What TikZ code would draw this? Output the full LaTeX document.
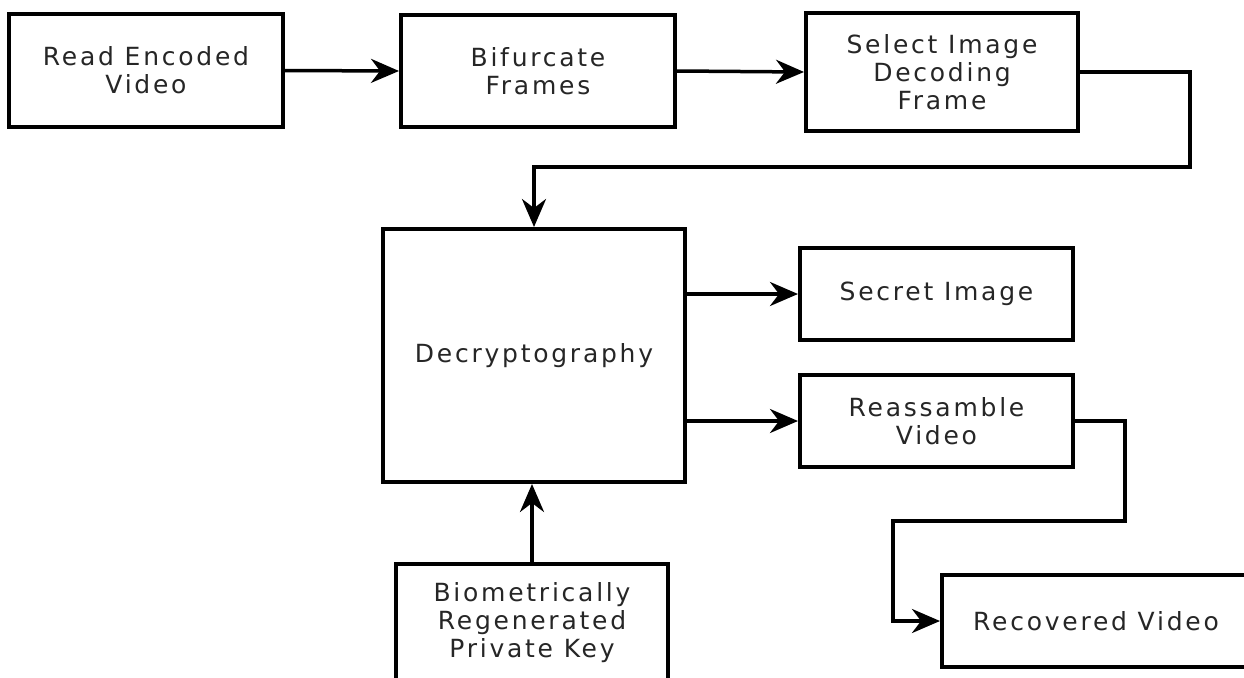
\documentclass[tikz,border=0pt]{standalone}
\usepackage{fontspec}
\setmainfont{DejaVu Sans}[LetterSpace=11]
\usetikzlibrary{arrows.meta}
\tikzset{
  box/.style={draw=black, line width=4pt, inner sep=0pt, align=center,
    font=\fontsize{25}{28}\selectfont, text=black!85},
  conn/.style={line width=3.5pt, line join=miter,
    -{Stealth[length=28pt,width=24pt,inset=9pt]}},
}
\begin{document}
\begin{tikzpicture}[x=1pt,y=-1pt]
\fill[white] (0,0) rectangle (1244,677);
\useasboundingbox (0,0) rectangle (1244,677);

\node[box, minimum width=274pt, minimum height=113pt] (read) at (146,70.5) {Read Encoded\\Video};
\node[box, minimum width=274pt, minimum height=112pt] (bif) at (538,71) {Bifurcate\\Frames};
\node[box, minimum width=272pt, minimum height=118pt] (sel) at (942,72) {Select Image\\Decoding\\Frame};
\node[box, minimum width=302pt, minimum height=253pt] (dec) at (534,355.5) {Decryptography};
\node[box, minimum width=273pt, minimum height=92pt] (sec) at (936.5,294) {Secret Image};
\node[box, minimum width=273pt, minimum height=92pt] (rea) at (936.5,421) {Reassamble\\Video};
\node[box, minimum width=272pt, minimum height=118pt] (key) at (532,623) {Biometrically\\Regenerated\\Private Key};
\node[box, minimum width=308pt, minimum height=92pt] (rec) at (1096,621) {Recovered Video};

\coordinate (c1) at (1190,72);
\coordinate (c2) at (1190,167);
\coordinate (c3) at (1125,421);
\coordinate (c4) at (1125,521);
\coordinate (c5) at (893,521);

\draw[conn] (read.east) -- (bif.west);
\draw[conn] (bif.east) -- (sel.west);
\draw[conn] (sel.east) -- (c1) -- (c2) -- (c2 -| dec.north) -- (dec.north);
\draw[conn] (dec.east |- sec.west) -- (sec.west);
\draw[conn] (dec.east |- rea.west) -- (rea.west);
\draw[conn] (key.north) -- (key.north |- dec.south);
\draw[conn] (rea.east) -- (c3) -- (c4) -- (c5) -- (c5 |- rec.west) -- (rec.west);
\end{tikzpicture}
\end{document}
